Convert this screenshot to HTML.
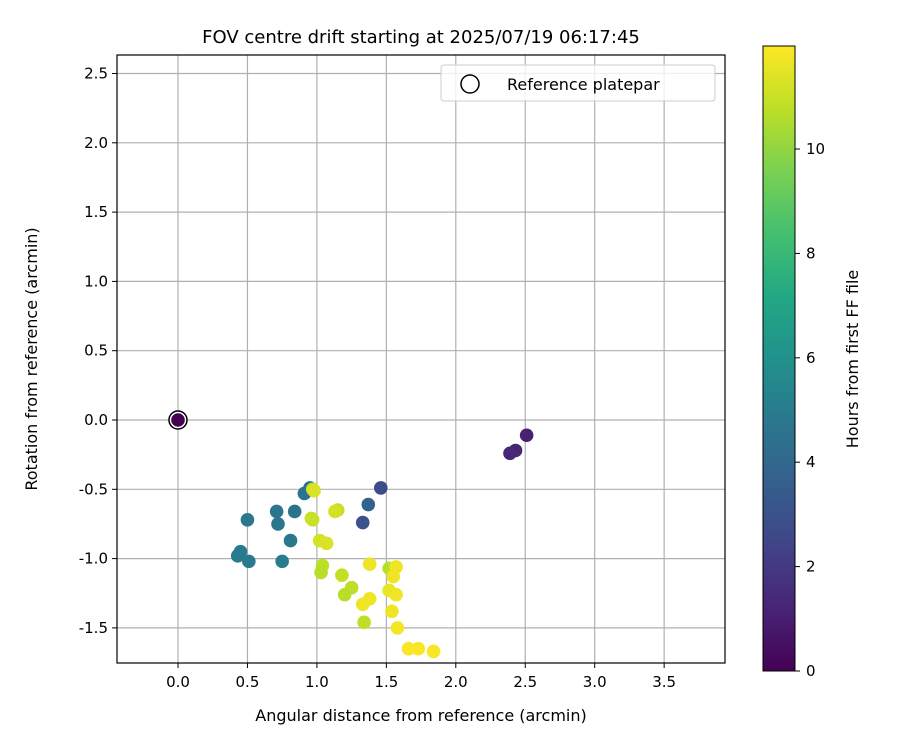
<!DOCTYPE html>
<html><head><meta charset="utf-8"><style>
body{margin:0;background:#fff;font-family:"DejaVu Sans","Liberation Sans",sans-serif}
svg text{font-family:"DejaVu Sans","Liberation Sans",sans-serif;fill:#000}
</style></head><body>
<svg id="c" width="900" height="750" xmlns="http://www.w3.org/2000/svg">
<defs><linearGradient id="vir" x1="0" y1="1" x2="0" y2="0">
<stop offset="0" stop-color="#440154"/><stop offset="0.1" stop-color="#482475"/><stop offset="0.2" stop-color="#414487"/><stop offset="0.3" stop-color="#355f8d"/><stop offset="0.4" stop-color="#2a788e"/><stop offset="0.5" stop-color="#21918c"/><stop offset="0.6" stop-color="#22a884"/><stop offset="0.7" stop-color="#44bf70"/><stop offset="0.8" stop-color="#7ad151"/><stop offset="0.9" stop-color="#bddf26"/><stop offset="1" stop-color="#fde725"/></linearGradient></defs>
<text x="421" y="43" font-size="18" text-anchor="middle">FOV centre drift starting at 2025/07/19 06:17:45</text>
<g id="grid"></g><g id="pts"></g>
<rect x="117" y="55" width="608" height="608" fill="none" stroke="#000" stroke-width="1.2"/>
<g id="ax"></g>
<text x="421" y="721" font-size="16" text-anchor="middle">Angular distance from reference (arcmin)</text>
<text transform="translate(37,359) rotate(-90)" font-size="16" text-anchor="middle">Rotation from reference (arcmin)</text>
<g>
<rect x="441" y="65" width="274" height="36" rx="3" fill="#fff" fill-opacity="0.8" stroke="#ccc"/>
<circle cx="470" cy="84" r="9" fill="#fff" stroke="#000" stroke-width="1.5"/>
<text x="507" y="90" font-size="16">Reference platepar</text></g>
<rect x="763" y="46" width="32" height="625" fill="url(#vir)" stroke="#000"/>
<g id="cb"></g>
<text transform="translate(858,359) rotate(-90)" font-size="16" text-anchor="middle">Hours from first FF file</text>
</svg>
<script>
const xs=[2.51,2.43,2.39,0,1.46,1.33,1.37,0.95,0.91,0.84,0.71,0.72,0.81,0.5,0.45,0.43,0.51,0.75,0.97,0.98,0.96,0.97,1.15,1.13,1.02,1.07,1.04,1.03,1.18,1.25,1.2,1.34,1.52,1.38,1.57,1.55,1.52,1.57,1.54,1.58,1.38,1.33,1.66,1.73,1.84];
const ys=[-0.11,-0.22,-0.24,0,-0.49,-0.74,-0.61,-0.49,-0.53,-0.66,-0.66,-0.75,-0.87,-0.72,-0.95,-0.98,-1.02,-1.02,-0.5,-0.51,-0.71,-0.72,-0.65,-0.66,-0.87,-0.89,-1.05,-1.1,-1.12,-1.21,-1.26,-1.46,-1.07,-1.04,-1.06,-1.13,-1.23,-1.26,-1.38,-1.5,-1.29,-1.33,-1.65,-1.65,-1.67];
const hours=[1.1,1.2,1.3,0,2.8,3,3.8,4.5,4.6,4.6,4.7,4.7,4.8,4.8,4.9,4.9,4.9,5,11.0,11.3,10.9,11.0,10.9,11.2,11.2,11.3,10.8,10.7,10.9,10.8,10.7,10.8,10.7,11.7,11.7,11.7,11.6,11.7,11.7,11.8,11.7,11.7,11.9,11.9,11.9];
const xTicks=[0,0.5,1,1.5,2,2.5,3,3.5];
const yTicks=[-1.5,-1,-0.5,0,0.5,1,1.5,2,2.5];
const cTicks=[0,2,4,6,8,10];
const X=v=>178+v*138.9, Y=v=>420-v*138.6, C=h=>671-h*52.2;
const vir=["#440154","#482475","#414487","#355f8d","#2a788e","#21918c","#22a884","#44bf70","#7ad151","#bddf26","#fde725"];
function col(h){let t=Math.min(1,h/11.97)*10,i=Math.min(9,Math.floor(t)),f=t-i;
const a=vir[i],b=vir[i+1],p=s=>[1,3,5].map(k=>parseInt(s.substr(k,2),16));const A=p(a),B=p(b);
return "rgb("+A.map((v,k)=>Math.round(v+(B[k]-v)*f)).join(",")+")";}
const NS="http://www.w3.org/2000/svg";
function el(t,at,par,txt){const e=document.createElementNS(NS,t);for(const k in at)e.setAttribute(k,at[k]);if(txt!==undefined)e.textContent=txt;document.getElementById(par).appendChild(e);return e;}
const fmt=v=>v.toFixed(1);
xTicks.forEach(v=>{const x=X(v);
const g=el("line",{x1:x,x2:x,y1:55,y2:663,stroke:"#b0b0b0","stroke-width":1.2},"grid");


el("line",{x1:x,x2:x,y1:663,y2:668,stroke:"#000"},"ax");
const t=el("text",{x:x,y:687,"font-size":15,"text-anchor":"middle"},"ax",fmt(v));

});
yTicks.forEach(v=>{const y=Y(v);
const g=el("line",{x1:117,x2:725,y1:y,y2:y,stroke:"#b0b0b0","stroke-width":1.2},"grid");


el("line",{x1:112,x2:117,y1:y,y2:y,stroke:"#000"},"ax");
const t=el("text",{x:108,y:y+5,"font-size":15,"text-anchor":"end"},"ax",fmt(v));

});
cTicks.forEach(v=>{const y=C(v);
el("line",{x1:795,x2:800,y1:y,y2:y,stroke:"#000"},"cb");
const t=el("text",{x:806,y:y+5,"font-size":15},"cb",String(v));

});
const ring=el("circle",{cx:X(0),cy:Y(0),r:9,fill:"#fff",stroke:"#000","stroke-width":1.5},"pts");


xs.forEach((v,i)=>{const p=el("circle",{cx:X(v),cy:Y(ys[i]),r:6.8,fill:col(hours[i])},"pts");

});
</script>
</body></html>
